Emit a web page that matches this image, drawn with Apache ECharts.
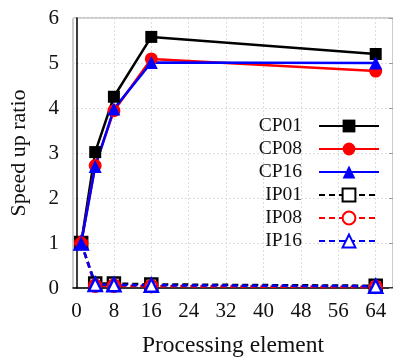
<!DOCTYPE html>
<html><head><meta charset="utf-8">
<script src="https://cdn.jsdelivr.net/npm/echarts@6/dist/echarts.min.js"></script>
<style>html,body{margin:0;padding:0;background:#fff}#c{width:393px;height:363px}</style>
</head><body><div id="c"></div>
<script>
var peCounts = [1, 4, 8, 16, 64];
var xTicks = [0, 8, 16, 24, 32, 40, 48, 56, 64];
var cp01 = [1.0, 3.02, 4.25, 5.58, 5.2];
var cp08 = [1.0, 2.72, 3.94, 5.09, 4.82];
var cp16 = [1.0, 2.7, 3.98, 5.01, 5.0];
var ip01 = [1.0, 0.1, 0.1, 0.08, 0.05];
var ip08 = [1.0, 0.05, 0.05, 0.04, 0.02];
var ip16 = [1.0, 0.08, 0.07, 0.06, 0.04];
var legendOrder = ['CP01', 'CP08', 'CP16', 'IP01', 'IP08', 'IP16'];

function pairs(v){ return peCounts.map(function(x,i){ return [x, v[i]]; }); }
var font = 'Liberation Serif';

function solid(name, data, color, symbol, size){
  return {name:name, type:'line', data:pairs(data), symbol:symbol, symbolSize:size,
    color:color, lineStyle:{color:color, width:2.5},
    itemStyle:{color:color, borderColor:color, borderWidth:0}, z:3};
}
function hollow(name, data, color, symbol, size){
  return {name:name, type:'line', data:pairs(data), symbol:symbol, symbolSize:size,
    color:color, lineStyle:{color:color, width:2.5, type:[6,4]},
    itemStyle:{color:'#fff', borderColor:color, borderWidth:2.5}, z:2};
}

var chart = echarts.init(document.getElementById('c'), null, {renderer:'canvas'});
chart.setOption({
  animation:false,
  textStyle:{fontFamily:font},
  grid:{left:72, right:-1, top:18, bottom:69, show:true, borderColor:'#999', borderWidth:1},
  legend:{
    data:legendOrder, orient:'vertical', right:8, top:111, align:'right',
    itemWidth:60, itemHeight:16, itemGap:3,
    textStyle:{fontFamily:font, fontSize:19.5, color:'#111', padding:[0,12,0,0]}
  },
  xAxis:{
    type:'value', min:-0.75, max:67.7,
    name:'Processing element', nameLocation:'middle', nameGap:46,
    nameTextStyle:{fontFamily:font, fontSize:23.5, color:'#111'},
    axisLine:{show:true, onZero:false, lineStyle:{color:'#000', width:1.5}},
    axisTick:{show:false, customValues:xTicks},
    axisLabel:{customValues:xTicks, fontFamily:font, fontSize:21, color:'#111', margin:13},
    splitLine:{show:true, customValues:xTicks, lineStyle:{color:'#ddd', type:[2,2]}}
  },
  yAxis:[{
    type:'value', min:0, max:6, interval:1,
    name:'Speed up ratio', nameLocation:'middle', nameGap:43,
    nameTextStyle:{fontFamily:font, fontSize:22, color:'#111'},
    axisLine:{show:true, lineStyle:{color:'#000', width:1.5}},
    axisTick:{show:false},
    axisLabel:{fontFamily:font, fontSize:21, color:'#111', margin:14},
    splitLine:{show:true, lineStyle:{color:'#ddd', type:[2,2]}}
  },{
    type:'value', min:0, max:6, interval:1, position:'right',
    axisLine:{show:false}, axisLabel:{show:false}, splitLine:{show:false},
    axisTick:{show:true, inside:true, length:4, lineStyle:{color:'#999'}}
  }],
  series:[
    hollow('IP01', ip01, '#000', 'rect', 12),
    hollow('IP08', ip08, '#ff0000', 'circle', 12),
    hollow('IP16', ip16, '#0000ff', 'triangle', 13),
    solid('CP01', cp01, '#000', 'rect', 12),
    solid('CP08', cp08, '#ff0000', 'circle', 13),
    solid('CP16', cp16, '#0000ff', 'triangle', 13)
  ]
});
</script></body></html>
